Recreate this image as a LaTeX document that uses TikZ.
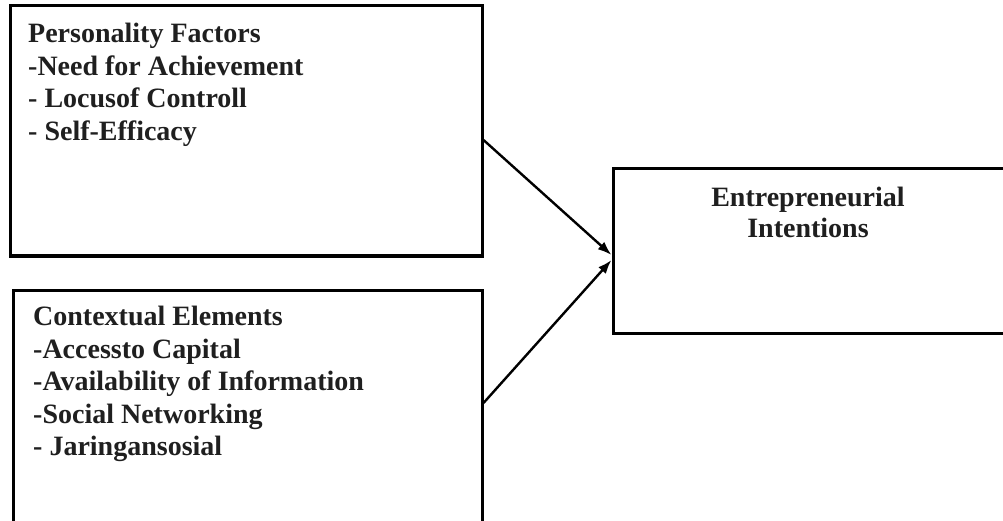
\documentclass[tikz,border=0pt]{standalone}
\usepackage{fontspec}
\setmainfont{Liberation Serif}
\usetikzlibrary{arrows.meta}
\tikzset{box/.style={draw, line width=3pt, rectangle, inner sep=0pt}}
\tikzset{boxtext/.style={inner sep=0pt, anchor=north west, align=left, font=\fontsize{28}{32.5}\selectfont\bfseries, text=black!88}}
\tikzset{link/.style={line width=2.4pt, -{Latex[length=14pt,width=10pt]}}}

\begin{document}
\begin{tikzpicture}[x=1pt,y=-1pt]
\clip (0,0) rectangle (1003,521);
\useasboundingbox (0,0) rectangle (1003,521);

\node[box, minimum width=472pt, minimum height=250pt] (pf) at (246,131) {};
\node[box, minimum width=469pt, minimum height=255pt] (ce) at (247.5,417.5) {};
\node[box, minimum width=397pt, minimum height=164pt] (ei) at (811.5,251) {};

\node[boxtext] (pftext) at (28,23) {Personality Factors\\-Need for Achievement\\- Locusof Controll\\- Self-Efficacy};
\node[boxtext] (cetext) at (33,306) {Contextual Elements\\-Accessto Capital\\-Availability of Information\\-Social Networking\\- Jaringansosial};
\node[boxtext, anchor=north, align=center, font=\fontsize{28}{31}\selectfont\bfseries] (eitext) at (808,187) {Entrepreneurial\\Intentions};

\draw[link] ([yshift=-9pt]pf.east) -- ([yshift=-4pt]ei.west);
\draw[link] ([yshift=14.5pt]ce.east) -- ([yshift=-9pt]ei.west);
\end{tikzpicture}
\end{document}
